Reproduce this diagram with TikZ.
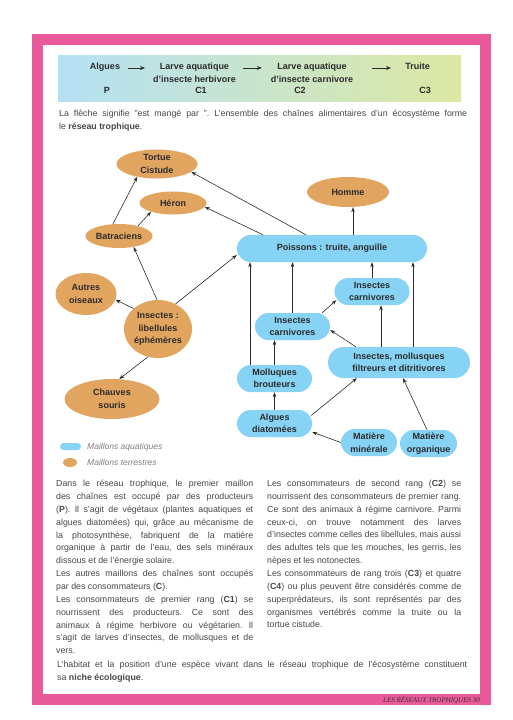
\documentclass[tikz,border=0pt]{standalone}
\usepackage{fontspec}
\setmainfont{Liberation Sans}
\newfontfamily\piedfont{Liberation Serif}
\usepackage{xcolor}
\usepackage{tikz}
\usetikzlibrary{arrows.meta}
\usetikzlibrary{shapes.geometric, calc}

\definecolor{cRose}{HTML}{E95A9B}
\definecolor{cTerre}{HTML}{E2A560}
\definecolor{cEau}{HTML}{87D3F5}
\definecolor{cBandG}{HTML}{B5E1F5}
\definecolor{cBandD}{HTML}{DCE8A2}
\definecolor{cEncre}{HTML}{2B2B2B}
\definecolor{cGris}{HTML}{474747}
\definecolor{cLeg}{HTML}{808080}

\newcommand{\noeudfont}{\fontsize{9}{12.5}\selectfont\bfseries}
\newcommand{\bandfont}{\fontsize{9}{13}\selectfont\bfseries}
\newcommand{\corpsfont}{\fontsize{8.8}{12.85}\selectfont\frenchspacing\tolerance=10000\hbadness=10000\hfuzz=6pt\hyphenpenalty=10000\exhyphenpenalty=10000}

\begin{document}
\begin{tikzpicture}[x=1pt,y=-1pt,
    terre/.style={ellipse, fill=cTerre, inner sep=0pt, align=center, font=\noeudfont, text=cEncre},
    eau/.style={rectangle, rounded corners=13.5pt, fill=cEau, inner sep=1pt, minimum height=27pt, align=center, font=\noeudfont, text=cEncre},
    fleche/.style={-{Stealth[length=5pt,width=3.6pt]}, line width=0.6pt, draw=cEncre},
    bfleche/.style={-{Stealth[length=5pt,width=4pt]}, line width=0.9pt, draw=cEncre},
    bandeau/.style={anchor=north, inner sep=0pt, align=center, font=\bandfont, text=cEncre},
    corps/.style={anchor=north west, inner sep=0pt, align=justify, font=\corpsfont, text=cGris},
    legende/.style={anchor=west, inner sep=0pt, font=\fontsize{8.5}{10}\selectfont\itshape, text=cLeg}]
    % Page et cadre
    \fill[white] (0,0) rectangle (512,720);
    \useasboundingbox (0,0) rectangle (512,720);
    \fill[cRose] (32,34) rectangle (491,705);
    \fill[white] (43,45) rectangle (480,694);

    % Bandeau : une chaine alimentaire
    \shade[left color=cBandG, right color=cBandD] (58,55) rectangle (461,101);
    \node[bandeau] (bAlgues) at (105,63) {Algues};
    \node[bandeau] (bLarveH) at (194.5,63) {Larve aquatique\\d'insecte herbivore};
    \node[bandeau] (bLarveC) at (312,63) {Larve aquatique\\d'insecte carnivore};
    \node[bandeau] (bTruite) at (417.5,63) {Truite};
    \node[bandeau] (bP) at (107,87) {P};
    \node[bandeau] (bC1) at (201,87) {C1};
    \node[bandeau] (bC2) at (300,87) {C2};
    \node[bandeau] (bC3) at (425,87) {C3};
    \draw[bfleche] ([xshift=8pt,yshift=-5pt]bAlgues.north east) -- ([xshift=-8pt,yshift=-5pt]bLarveH.north west);
    \draw[bfleche] ([xshift=7.5pt,yshift=-5pt]bLarveH.north east) -- ([xshift=-9pt,yshift=-5pt]bLarveC.north west);
    \draw[bfleche] ([xshift=19pt,yshift=-5pt]bLarveC.north east) -- ([xshift=-14pt,yshift=-5pt]bTruite.north west);

    \node[corps, text width=408pt] (explication) at (59,110) {La flèche signifie "est mangé par ". L'ensemble des chaînes alimentaires d'un écosystème forme\linebreak
    le \textbf{réseau trophique}.};

    % Maillons terrestres
    \node[terre, minimum width=81pt, minimum height=29pt] (tortue) at (157,164) {Tortue\\Cistude};
    \node[terre, minimum width=67pt, minimum height=23pt] (heron) at (173,203) {Héron};
    \node[terre, minimum width=67pt, minimum height=24pt] (batraciens) at (119,236) {Batraciens};
    \node[terre, minimum width=61pt, minimum height=42pt] (oiseaux) at (86,294) {Autres\\oiseaux};
    \node[terre, minimum width=68pt, minimum height=58pt] (insectes) at (158,329) {Insectes :\\libellules\\éphémères};
    \node[terre, minimum width=95pt, minimum height=40pt] (chauves) at (112,399) {Chauves\\souris};
    \node[terre, minimum width=82pt, minimum height=30pt] (homme) at (348,192) {Homme};

    % Maillons aquatiques
    \node[eau, minimum width=190pt] (poissons) at (332,248.5) {Poissons : truite, anguille};
    \node[eau, minimum width=75pt] (carniB) at (372,291.5) {Insectes\\carnivores};
    \node[eau, minimum width=75pt] (carniA) at (292.5,326.5) {Insectes\\carnivores};
    \node[eau, minimum width=142pt, minimum height=31pt, rounded corners=15.5pt] (filtreurs) at (399,362.5) {Insectes, mollusques\\filtreurs et ditritivores};
    \node[eau, minimum width=75pt] (mollusques) at (274.5,378.5) {Molluques\\brouteurs};
    \node[eau, minimum width=75pt] (algues) at (274.5,423.5) {Algues\\diatomées};
    \node[eau, minimum width=56pt] (minerale) at (369,442.5) {Matière\\minérale};
    \node[eau, minimum width=57pt] (organique) at (428.5,443.5) {Matière\\organique};

    % Fleches "est mange par"
    \draw[fleche] (batraciens.117) -- (tortue.213);
    \draw[fleche] (batraciens.28) -- (heron.202);
    \draw[fleche] ([xshift=-26pt]poissons.north) -- (tortue.347);
    \draw[fleche] ([xshift=-69pt]poissons.north) -- (heron.353);
    \coordinate (pHomme) at ([xshift=21pt]poissons.north);
    \draw[fleche] (pHomme) -- (pHomme |- homme.south);
    \draw[fleche] (insectes.92) -- (batraciens.323);
    \draw[fleche] (insectes.140) -- (oiseaux.349);
    \draw[fleche] (insectes.55) -- ([yshift=-6.5pt]poissons.west);
    \draw[fleche] (insectes.250) -- (chauves.70);

    \coordinate (pMoll) at ([xshift=-24.5pt]mollusques.north);
    \draw[fleche] (pMoll) -- (pMoll |- poissons.south);
    \draw[fleche] (carniA.north) -- (carniA.north |- poissons.south);
    \draw[fleche] (carniB.north) -- (carniB.north |- poissons.south);
    \coordinate (pFiltP) at ([xshift=14pt]filtreurs.north);
    \draw[fleche] (pFiltP) -- (pFiltP |- poissons.south);
    \coordinate (pFiltC) at ([xshift=-18pt]filtreurs.north);
    \draw[fleche] (pFiltC) -- (pFiltC |- carniB.south);
    \draw[fleche] ([xshift=-8pt]carniA.north east) -- ([xshift=2pt,yshift=5pt]carniB.south west);
    \draw[fleche] ([xshift=28pt]filtreurs.north west) -- ([yshift=-3.5pt]carniA.east);
    \draw[fleche] (mollusques.north) -- (mollusques.north |- carniA.south);
    \draw[fleche] (algues.north) -- (mollusques.south);
    \draw[fleche] ([xshift=-1pt,yshift=8pt]algues.east) -- ([xshift=29pt]filtreurs.south west);
    \draw[fleche] (minerale.west) -- ([yshift=-8.5pt]algues.east);
    \draw[fleche] ([xshift=-1.5pt]organique.north) -- ([xshift=4pt]filtreurs.south);

    % Legende
    \node[eau, minimum width=21pt, minimum height=7pt, rounded corners=3.5pt, inner sep=0pt] (legEau) at (70.5,446.5) {};
    \node[terre, minimum width=14pt, minimum height=9pt] (legTerre) at (70,462.5) {};
    \node[legende] (txtEau) at (87,447) {Maillons aquatiques};
    \node[legende] (txtTerre) at (87,462.5) {Maillons terrestres};

    % Texte
    \node[corps, text width=197pt] (texteG) at (56,480) {Dans le réseau trophique, le premier maillon\linebreak
    des chaînes est occupé par des producteurs\linebreak
    (\textbf{P}). Il s'agit de végétaux (plantes aquatiques et\linebreak
    algues diatomées) qui, grâce au mécanisme de\linebreak
    la photosynthèse, fabriquent de la matière\linebreak
    organique à partir de l'eau, des sels minéraux\linebreak
    dissous et de l'énergie solaire.\par
    Les autres maillons des chaînes sont occupés\linebreak
    par des consommateurs (\textbf{C}).\par
    Les consommateurs de premier rang (\textbf{C1}) se\linebreak
    nourrissent des producteurs. Ce sont des\linebreak
    animaux à régime herbivore ou végétarien. Il\linebreak
    s'agit de larves d'insectes, de mollusques et de\linebreak
    vers.};
    \node[corps, text width=194pt] (texteD) at (267,480) {Les consommateurs de second rang (\textbf{C2}) se\linebreak
    nourrissent des consommateurs de premier rang.\linebreak
    Ce sont des animaux à régime carnivore. Parmi\linebreak
    ceux-ci, on trouve notamment des larves\linebreak
    d'insectes comme celles des libellules, mais aussi\linebreak
    des adultes tels que les mouches, les gerris, les\linebreak
    nèpes et les notonectes.\par
    Les consommateurs de rang trois (\textbf{C3}) et quatre\linebreak
    (\textbf{C4}) ou plus peuvent être considérés comme de\linebreak
    superprédateurs, ils sont représentés par des\linebreak
    organismes vertébrés comme la truite ou la\linebreak
    tortue cistude.};
    \node[corps, text width=410pt] (niche) at (57,660.5) {L'habitat et la position d'une espèce vivant dans le réseau trophique de l'écosystème constituent\linebreak
    sa \textbf{niche écologique}.};

    % Pied de page
    \node[anchor=east, inner sep=0pt, font=\piedfont\itshape\fontsize{7}{8}\selectfont, text=black!80] (pied) at (480,700) {LES RÉSEAUX TROPHIQUES 30};
\end{tikzpicture}
\end{document}
